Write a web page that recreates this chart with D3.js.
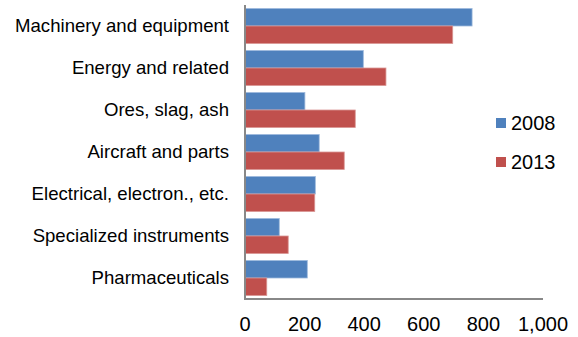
<!DOCTYPE html>
<html lang="en">
<head>
  <meta charset="UTF-8">
  <title>Exports by category</title>
  <style>
    body { margin: 0; background: #fff; }
    #chart { width: 578px; height: 337px; }
    text { font-family: "Liberation Sans", Arial, sans-serif; fill: #000; }
  </style>
</head>
<body>
  <div id="chart"></div>

  <script src="https://d3js.org/d3.v7.min.js"></script>
  <script>
    // categories, top to bottom
    const categories = [
      "Machinery and equipment",
      "Energy and related",
      "Ores, slag, ash",
      "Aircraft and parts",
      "Electrical, electron., etc.",
      "Specialized instruments",
      "Pharmaceuticals"
    ];
    const seriesNames = ["2008", "2013"];
    const values2008 = [762, 397, 201, 249, 236, 115, 209];
    const values2013 = [697, 473, 370, 333, 234, 145, 73];
    const xTicks = [0, 200, 400, 600, 800, 1000];

    const colors = ["#4F81BD", "#C0504D"];
    const strokes = ["#9DB9DC", "#D99694"];

    const W = 578, H = 337;
    const plot = { left: 245, right: 543, top: 5, bottom: 299 };

    const svg = d3.select("#chart")
      .append("svg")
      .attr("width", W)
      .attr("height", H);

    const x = d3.scaleLinear()
      .domain([0, 1000])
      .range([plot.left, plot.right]);

    const y = d3.scaleBand()
      .domain(categories)
      .range([plot.top, plot.bottom])
      .paddingInner(0.1667)
      .paddingOuter(0.0833);

    const inner = d3.scaleBand()
      .domain(seriesNames)
      .range([0, y.bandwidth()]);

    const rows = categories.map((c, i) => ({
      cat: c,
      vals: [values2008[i], values2013[i]]
    }));

    // bars
    const g = svg.append("g");
    rows.forEach(r => {
      r.vals.forEach((v, j) => {
        g.append("rect")
          .attr("x", x(0))
          .attr("y", y(r.cat) + inner(seriesNames[j]))
          .attr("width", x(v) - x(0))
          .attr("height", inner.bandwidth())
          .attr("fill", colors[j])
          .attr("stroke", strokes[j])
          .attr("stroke-width", 0.8);
      });
    });

    // y axis line + labels
    svg.append("line")
      .attr("x1", plot.left).attr("x2", plot.left)
      .attr("y1", plot.top).attr("y2", plot.bottom)
      .attr("stroke", "#888").attr("stroke-width", 2);

    svg.append("g").selectAll("text")
      .data(categories)
      .enter().append("text")
      .attr("x", 229)
      .attr("y", d => y(d) + y.bandwidth() / 2 - 1)
      .attr("dy", "0.35em")
      .attr("text-anchor", "end")
      .style("font-size", "18.6px")
      .text(d => d);

    // x axis line + tick labels
    svg.append("line")
      .attr("x1", plot.left - 1).attr("x2", plot.right)
      .attr("y1", plot.bottom).attr("y2", plot.bottom)
      .attr("stroke", "#888").attr("stroke-width", 2);

    const fmt = d3.format(",");
    svg.append("g").selectAll("text")
      .data(xTicks)
      .enter().append("text")
      .attr("x", d => x(d))
      .attr("y", 324)
      .attr("dy", "0.35em")
      .attr("text-anchor", "middle")
      .style("font-size", "20px")
      .text(d => fmt(d));

    // legend
    const legend = svg.append("g");
    seriesNames.forEach((s, j) => {
      const ly = 123 + j * 39;
      legend.append("rect")
        .attr("x", 496).attr("y", ly - 5)
        .attr("width", 10).attr("height", 10)
        .attr("fill", colors[j]);
      legend.append("text")
        .attr("x", 511).attr("y", ly)
        .attr("dy", "0.35em")
        .style("font-size", "20px")
        .text(s);
    });
  </script>
</body>
</html>
